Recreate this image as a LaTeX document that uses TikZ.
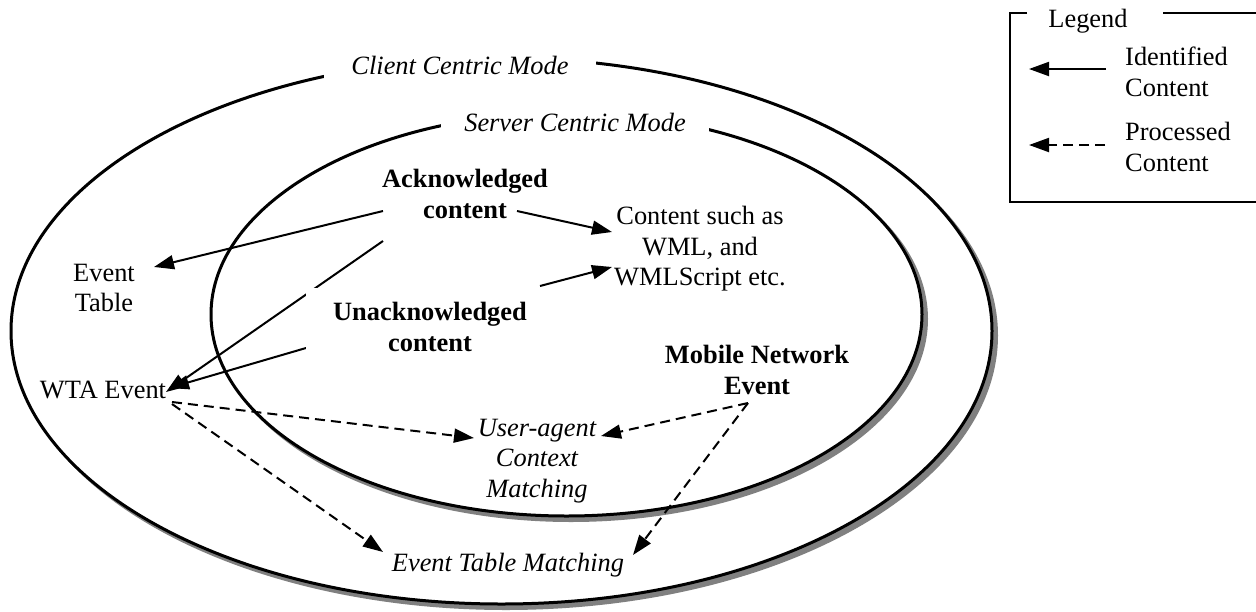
\documentclass[tikz,border=0pt]{standalone}
\usepackage{fontspec}
\setmainfont{Liberation Serif}
\usetikzlibrary{arrows.meta}
\pgfdeclarelayer{bg}
\pgfsetlayers{bg,main}
\definecolor{shadowgray}{HTML}{808080}
\newcommand\diagfont{\fontsize{26.4pt}{30.5pt}\selectfont}
\tikzset{
  txt/.style={font=\diagfont, inner sep=0pt, align=center},
  ring/.style={draw=black, line width=3pt, fill=white},
  ringshadow/.style={draw=shadowgray, fill=shadowgray, line width=3pt},
  idarrow/.style={line width=2pt, -{Triangle[length=20pt,width=14pt]}},
  prarrow/.style={idarrow, dash pattern=on 10pt off 6pt},
  modelabel/.style={txt, font=\diagfont\itshape, fill=white, inner ysep=8pt},
  frame/.style={line width=2pt},
}
\begin{document}
\begin{tikzpicture}[x=1pt,y=-1pt]
\useasboundingbox (0,0) rectangle (1256,611);
\clip (0,0) rectangle (1256,611);

% the two modes, drawn as shadowed rings
\begin{pgfonlayer}{bg}
\fill[white] (0,0) rectangle (1256,611);
\draw[ringshadow] (506,335.5) ellipse [x radius=490.5pt, y radius=273pt];
\draw[ring] (501.5,331) ellipse [x radius=490.5pt, y radius=273pt];
\draw[ringshadow] (571,318.9) ellipse [x radius=355.5pt, y radius=201.6pt];
\draw[ring] (566.5,314.4) ellipse [x radius=355.5pt, y radius=201.6pt];
\end{pgfonlayer}

% labels and contents
\node[modelabel, inner xsep=27pt] (cc) at (460,65) {Client Centric Mode};
\node[modelabel, inner xsep=23pt] (sc) at (575,122) {Server Centric Mode};
\node[txt, font=\diagfont\bfseries] (ack) at (465,194) {Acknowledged\\content};
\node[txt, font=\diagfont\bfseries, fill=white, inner xsep=27pt, inner ysep=14pt] (unack) at (430,327) {Unacknowledged\\content};
\node[txt] (wml) at (700,249) {Content such as\\WML, and\\WMLScript etc.};
\node[txt] (evt) at (104,288) {Event\\Table};
\node[txt] (wta) at (103,390) {WTA Event};
\node[txt, font=\diagfont\bfseries] (mne) at (757,370) {Mobile Network\\Event};
\node[txt, font=\diagfont\itshape] (uac) at (537,461) {User-agent\\Context\\Matching};
\node[txt, font=\diagfont\itshape] (etm) at (508,565) {Event Table Matching};

% connectors
\begin{pgfonlayer}{bg}
\draw[idarrow] ([shift={(-82,17)}]ack.center) -- ([shift={(50,-21)}]evt.center);
\draw[idarrow] ([shift={(52,17)}]ack.center) -- ([shift={(-88,-17)}]wml.center);
\draw[idarrow] ([shift={(-82,47)}]ack.center) -- ([shift={(63,2)}]wta.center);
\draw[idarrow] ([shift={(110,-41)}]unack.center) -- ([shift={(-88,18)}]wml.center);
\draw[idarrow] ([shift={(-124,21)}]unack.center) -- ([shift={(66,-2)}]wta.center);
\draw[prarrow] ([shift={(69,12)}]wta.center) -- ([shift={(-63,-23)}]uac.center);
\draw[prarrow] ([shift={(69,14)}]wta.center) -- ([shift={(-125,-13)}]etm.center);
\draw[prarrow] ([shift={(-9,33)}]mne.center) -- ([shift={(64,-25)}]uac.center);
\draw[prarrow] ([shift={(-9,33)}]mne.center) -- ([shift={(125,-10)}]etm.center);
\end{pgfonlayer}

% legend
\draw[frame] (1027,12.7) -| (1010,202) -- (1262,202);
\draw[frame] (1163,12.7) -- (1262,12.7);
\node[txt] (lg) at (1088,21) {Legend};
\node[txt, align=left, anchor=west] (idc) at (1125,72) {Identified\\Content};
\node[txt, align=left, anchor=west] (prc) at (1125,147) {Processed\\Content};
\draw[idarrow] ([shift={(-19,-3)}]idc.west) -- ([shift={(-96,-3)}]idc.west);
\draw[prarrow] ([shift={(-20,-2)}]prc.west) -- ([shift={(-96,-2)}]prc.west);
\end{tikzpicture}
\end{document}
